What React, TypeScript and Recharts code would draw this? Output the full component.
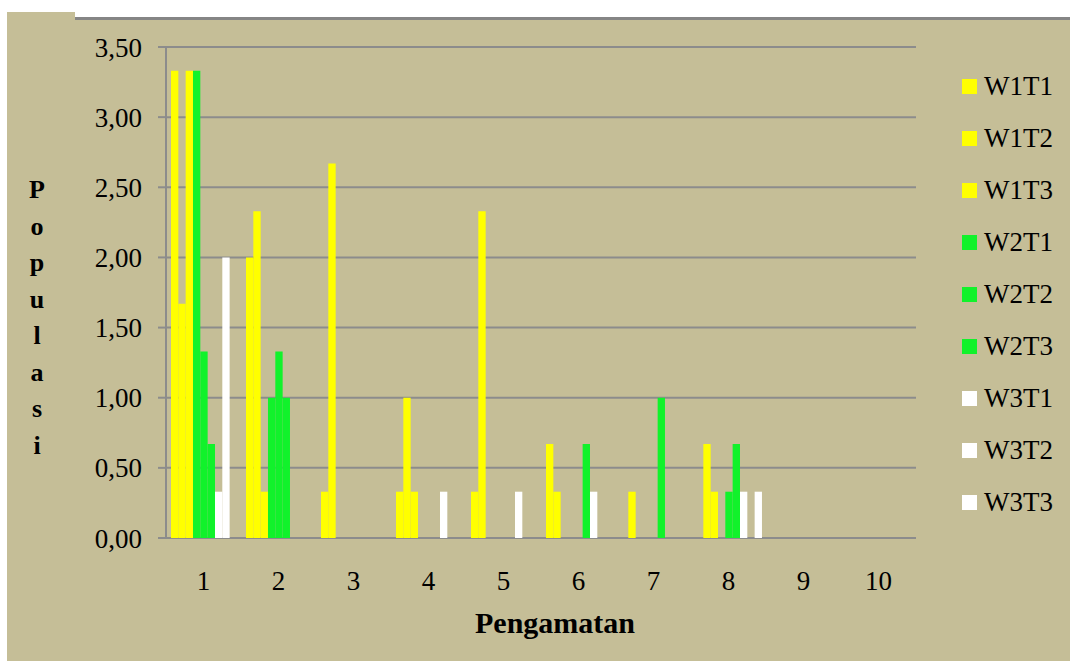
import React from "react";
import { BarChart, Bar, XAxis, YAxis, CartesianGrid } from "recharts";

const categories = ["1", "2", "3", "4", "5", "6", "7", "8", "9", "10"];
const yTicks = [0, 0.5, 1, 1.5, 2, 2.5, 3, 3.5];

const w1t1 = [3.33, 2.0, 0.33, 0.33, 0.33, 0.67, 0, 0, 0, 0];
const w1t2 = [1.67, 2.33, 2.67, 1.0, 2.33, 0.33, 0.33, 0.67, 0, 0];
const w1t3 = [3.33, 0.33, 0, 0.33, 0, 0, 0, 0.33, 0, 0];
const w2t1 = [3.33, 1.0, 0, 0, 0, 0, 0, 0, 0, 0];
const w2t2 = [1.33, 1.33, 0, 0, 0, 0, 0, 0.33, 0, 0];
const w2t3 = [0.67, 1.0, 0, 0, 0, 0.67, 1.0, 0.67, 0, 0];
const w3t1 = [0.33, 0, 0, 0.33, 0.33, 0.33, 0, 0.33, 0, 0];
const w3t2 = [2.0, 0, 0, 0, 0, 0, 0, 0, 0, 0];
const w3t3 = [0, 0, 0, 0, 0, 0, 0, 0.33, 0, 0];

const YELLOW = "#FFFF00";
const GREEN = "#11F22B";
const WHITE = "#FFFFFF";

const series = [
  { name: "W1T1", values: w1t1, color: YELLOW },
  { name: "W1T2", values: w1t2, color: YELLOW },
  { name: "W1T3", values: w1t3, color: YELLOW },
  { name: "W2T1", values: w2t1, color: GREEN },
  { name: "W2T2", values: w2t2, color: GREEN },
  { name: "W2T3", values: w2t3, color: GREEN },
  { name: "W3T1", values: w3t1, color: WHITE },
  { name: "W3T2", values: w3t2, color: WHITE },
  { name: "W3T3", values: w3t3, color: WHITE },
];

const data = categories.map((name, i) => {
  const row: Record<string, string | number> = { name };
  series.forEach((s) => (row[s.name] = s.values[i]));
  return row;
});

// boundary ticks between categories (0..10)
const boundaryTicks = categories.map((_, i) => i).concat(categories.length);

const BG = "#C5BE97";
const GRID = "#8C8C8C";
const FONT = "Liberation Serif, DejaVu Serif, serif";
const yLabel = "Populasi".split("");

export default function App() {
  return (
    <div style={{ position: "absolute", left: 0, top: 0, width: 1070, height: 661, background: "#fff", fontFamily: FONT }}>
      <div style={{ position: "absolute", left: 7, top: 12, width: 1063, height: 649, background: BG }} />
      <div style={{ position: "absolute", left: 75, top: 12, width: 995, height: 5, background: "#fff" }} />
      <div style={{ position: "absolute", left: 75, top: 17, width: 995, height: 3, background: "#858585" }} />

      <div style={{ position: "absolute", left: 0, top: 0 }}>
        <BarChart
          width={1070}
          height={661}
          data={data}
          margin={{ top: 47, right: 154, bottom: 63, left: 0 }}
          barGap={0}
          style={{ fontFamily: FONT }}
        >
          <CartesianGrid vertical={false} stroke={GRID} strokeWidth={2} />
          <XAxis
            xAxisId={0}
            type="number"
            domain={[0, categories.length]}
            ticks={boundaryTicks}
            height={0}
            tickSize={8}
            tickFormatter={() => ""}
            stroke={GRID}
            strokeWidth={2}
            allowDataOverflow
          />
          <XAxis
            xAxisId="cat"
            dataKey="name"
            height={60}
            tickLine={false}
            axisLine={false}
            tickSize={0}
            tickMargin={33}
            tick={{ fill: "#000", fontSize: 27, fontFamily: FONT }}
            interval={0}
          />
          <YAxis
            domain={[0, 3.5]}
            ticks={yTicks}
            width={166}
            tickSize={8}
            tickMargin={16}
            stroke={GRID}
            strokeWidth={2}
            tick={{ fill: "#000", fontSize: 27, fontFamily: FONT }}
            tickFormatter={(v: number) => v.toFixed(2).replace(".", ",")}
            interval={0}
          />
          {series.map((s) => (
            <Bar
              key={s.name}
              xAxisId="cat"
              dataKey={s.name}
              fill={s.color}
              barSize={7.33}
              isAnimationActive={false}
            />
          ))}
        </BarChart>
      </div>

      <div
        style={{
          position: "absolute",
          left: 22,
          top: 172,
          width: 30,
          textAlign: "center",
          fontWeight: "bold",
          fontSize: 26,
          lineHeight: "36.5px",
        }}
      >
        {yLabel.map((ch, i) => (
          <div key={i}>{ch}</div>
        ))}
      </div>

      <div
        style={{
          position: "absolute",
          left: 405,
          top: 608,
          width: 300,
          textAlign: "center",
          fontWeight: "bold",
          fontSize: 30,
          lineHeight: "30px",
        }}
      >
        Pengamatan
      </div>

      <div style={{ position: "absolute", left: 962, top: 60 }}>
        {series.map((s) => (
          <div key={s.name} style={{ display: "flex", alignItems: "center", height: 52 }}>
            <div style={{ width: 15, height: 15, background: s.color, marginRight: 7 }} />
            <span style={{ fontSize: 27, lineHeight: "27px", color: "#000" }}>{s.name}</span>
          </div>
        ))}
      </div>
    </div>
  );
}
